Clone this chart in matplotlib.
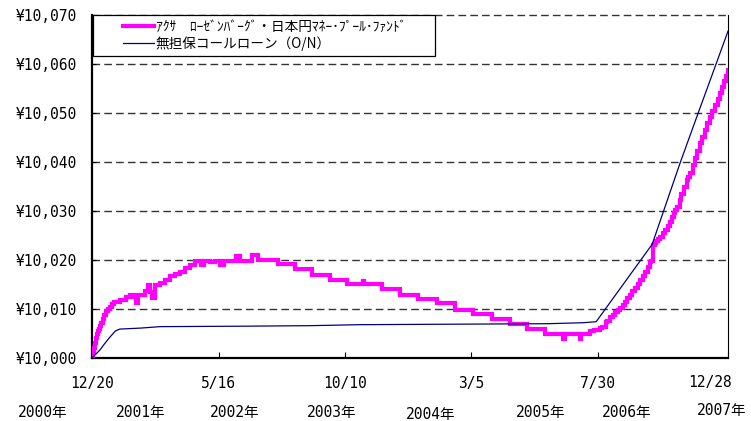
import matplotlib
matplotlib.use("Agg")
import matplotlib.pyplot as plt
from matplotlib.legend_handler import HandlerLine2D
from matplotlib.transforms import ScaledTranslation

# days since 2000-12-20
fund_day = [0, 1, 2, 3, 5, 6, 7, 8, 9, 11, 13, 14, 16, 18, 21, 23, 26, 32, 39, 44, 49,
            51, 53, 62, 65, 67, 70, 73, 79, 85, 91, 96, 102, 108, 114, 120, 124, 126,
            130, 137, 143, 149, 153, 162, 167, 172, 183, 186, 190, 193, 214, 216, 230,
            236, 255, 276, 296, 314, 316, 337, 357, 378, 400, 421, 442, 464, 485, 505,
            526, 546, 549, 566, 568, 578, 583, 589, 592, 596, 598, 601, 604, 607, 610,
            613, 616, 618, 621, 624, 627, 630, 633, 636, 639, 642, 645, 647, 649, 651,
            653, 655, 657, 659, 662, 665, 668, 671, 673, 675, 677, 679, 682, 684, 687,
            690, 692, 694, 697, 700, 702, 705, 708, 711, 714, 717, 720, 723, 726, 729,
            731, 733, 736, 738]
fund_val = [10000.0, 10001.0, 10002.0, 10003.0, 10004.0, 10004.8, 10005.5, 10006.0,
            10006.5, 10007.2, 10008.0, 10008.8, 10009.5, 10010.0, 10010.5, 10011.0,
            10011.5, 10011.8, 10012.5, 10012.9, 10012.5, 10011.2, 10012.8, 10013.7,
            10014.9, 10013.5, 10012.2, 10014.8, 10015.3, 10016.0, 10016.7, 10017.2,
            10017.6, 10018.3, 10019.0, 10019.8, 10019.8, 10019.0, 10019.8, 10019.6,
            10019.8, 10019.0, 10019.8, 10019.8, 10020.8, 10019.8, 10019.8, 10021.0,
            10021.0, 10020.0, 10020.0, 10019.2, 10019.2, 10018.2, 10016.9, 10015.9,
            10015.1, 10015.8, 10015.1, 10014.0, 10012.9, 10012.0, 10011.2, 10009.8,
            10009.0, 10007.9, 10006.9, 10005.9, 10004.9, 10003.9, 10004.9, 10003.9,
            10004.9, 10005.5, 10005.8, 10006.1, 10006.3, 10007.3, 10007.6, 10008.3,
            10008.8, 10009.3, 10009.7, 10010.2, 10010.9, 10011.5, 10012.2, 10012.9,
            10013.6, 10014.3, 10015.1, 10015.9, 10016.7, 10017.6, 10018.6, 10019.6,
            10019.8, 10023.1, 10023.4, 10023.8, 10024.2, 10024.7, 10025.5, 10026.2,
            10027.0, 10027.8, 10028.7, 10029.6, 10030.2, 10030.8, 10032.2, 10033.5,
            10034.9, 10036.3, 10037.0, 10037.8, 10039.3, 10040.8, 10042.3, 10043.9,
            10045.2, 10046.5, 10047.9, 10049.2, 10050.4, 10051.6, 10052.9, 10054.1,
            10055.3, 10056.5, 10057.6, 10058.8]

call_day = [0, 9, 15, 21, 27, 32, 56, 79, 183, 253, 311, 529, 570, 585, 650, 682, 703, 725, 738]
call_val = [10000.0, 10001.6, 10003.0, 10004.3, 10005.5, 10005.9, 10006.1, 10006.4,
            10006.5, 10006.6, 10006.8, 10007.0, 10007.2, 10007.4, 10023.2, 10039.6,
            10049.8, 10060.4, 10066.7]

fund_name = "ｱｸｻ　ﾛｰｾﾞﾝﾊﾞｰｸﾞ・日本円ﾏﾈｰ･ﾌﾟｰﾙ･ﾌｧﾝﾄﾞ"
call_name = "無担保コールローン（O/N）"

tick_days = [0, 147, 294, 440, 587, 738]
tick_labels = ["12/20", "5/16", "10/10", "3/5", "7/30", "12/28"]
y_ticks = [10000, 10010, 10020, 10030, 10040, 10050, 10060, 10070]
year_labels = ["2000年", "2001年", "2002年", "2003年", "2004年", "2005年", "2006年", "2007年"]

W, H = 751, 421
mono = ["DejaVu Sans Mono", "Noto Sans CJK JP"]

fig = plt.figure(figsize=(W / 100, H / 100), dpi=100)
ax = fig.add_axes([92 / W, 1 - 358 / H, 636 / W, 343 / H])

ax.plot(fund_day, fund_val, color="#FF00FF", lw=3.0, drawstyle="steps-post",
        solid_joinstyle="miter", label=fund_name, zorder=3)
ax.plot(call_day, call_val, color="#000080", lw=0.9, label=call_name, zorder=4)

ax.set_xlim(0, 738)
ax.set_ylim(10000, 10070)
ax.set_yticks(y_ticks)
ax.set_yticklabels([f"¥{v:,}" for v in y_ticks])
ax.set_xticks(tick_days)
ax.set_xticklabels(tick_labels)

for v in y_ticks[1:]:
    ax.axhline(v, color="#333333", lw=1.0, dashes=(5.5, 3), zorder=1, clip_on=False)

for side in ("left", "bottom"):
    ax.spines[side].set_linewidth(1.6)
ax.spines["right"].set_linewidth(0.8)
ax.spines["top"].set_visible(False)

ax.tick_params(axis="y", direction="in", length=3, width=0.8, pad=11, labelsize=10.5)
ax.tick_params(axis="x", direction="in", length=4, width=0.8, pad=13, labelsize=10.5)
for lab in ax.get_xticklabels() + ax.get_yticklabels():
    lab.set_family(mono)

last = ax.get_xticklabels()[-1]
last.set_transform(last.get_transform() + ScaledTranslation(-0.18, 0.015, fig.dpi_scale_trans))

leg = ax.legend(loc="upper left", bbox_to_anchor=(1 / 636, 0.0, 342 / 636, 1.0),
                mode="expand", borderaxespad=0,
                fancybox=False, edgecolor="black", framealpha=1,
                prop={"family": "Noto Sans CJK JP", "size": 9.8},
                handlelength=4.1, handletextpad=0.15, borderpad=0.35, labelspacing=0.2,
                handler_map={plt.Line2D: HandlerLine2D(xpad=1.85)})
leg.get_frame().set_linewidth(0.9)
leg.set_zorder(5)

year_x = [43, 141, 235, 332, 431, 541, 627, 722]
year_y = [412, 412, 412, 412, 414, 412, 412, 410]
for txt, x, y in zip(year_labels, year_x, year_y):
    fig.text(x / W, 1 - y / H, txt, ha="center", va="center", fontsize=10.5, family=mono)

fig.savefig("out.png", dpi=100)
